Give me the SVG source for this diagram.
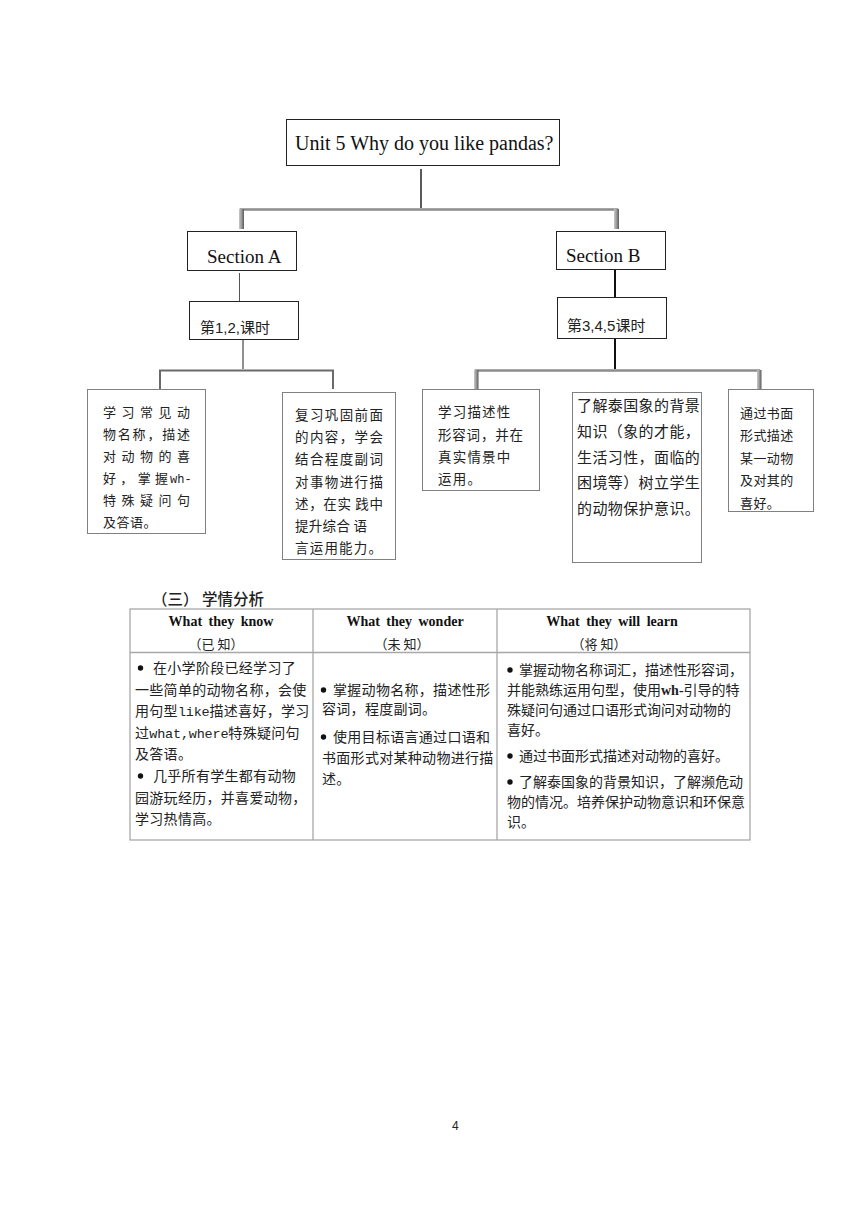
<svg xmlns="http://www.w3.org/2000/svg" width="860" height="1216" viewBox="0 0 860 1216">
<defs>
<linearGradient id="leg" x1="0" y1="0" x2="1" y2="0">
<stop offset="0" stop-color="#c8c8c8"/>
<stop offset="0.5" stop-color="#9a9a9a"/>
<stop offset="1" stop-color="#5a5a5a"/>
</linearGradient>
<style>
.box{fill:#fff;stroke:#222;stroke-width:1}
.cbox{fill:#fff;stroke:#808080;stroke-width:1}
.en{font-family:"Liberation Serif","Times New Roman",serif;fill:#111}
.cn{font-family:"Noto Sans CJK SC","Noto Sans",sans-serif;fill:#222}
.ct{font-family:"Noto Sans CJK SC","Noto Sans",sans-serif;fill:#222;font-size:14px;letter-spacing:0.3px}
.ct3{font-family:"Noto Sans CJK SC","Noto Sans",sans-serif;fill:#222;font-size:14px;letter-spacing:0px}
.mono{font-family:"Liberation Mono",monospace;font-size:13.5px;letter-spacing:-0.2px}
.hd{font-family:"Liberation Serif","Times New Roman",serif;font-weight:bold;font-size:14px;word-spacing:3px;fill:#111}
.tl{stroke:#a8a8a8;stroke-width:1.3;fill:none}
</style>
</defs>
<rect width="860" height="1216" fill="#fff"/>

<g id="connectors">
<line x1="421" y1="169" x2="421" y2="208" stroke="#222" stroke-width="1.5"/>
<path d="M241,228 V209.5 H617 V228" fill="none" stroke="#8c8c8c" stroke-width="2.5"/>
<rect x="239" y="209" width="5" height="20" fill="url(#leg)"/>
<rect x="614" y="209" width="5" height="20" fill="url(#leg)"/>
<line x1="239.5" y1="273" x2="239.5" y2="301" stroke="#555" stroke-width="1"/>
<line x1="615" y1="269" x2="615" y2="297" stroke="#111" stroke-width="2"/>
<line x1="243" y1="340" x2="243" y2="369" stroke="#222" stroke-width="1"/>
<path d="M160,389 V370.5 H333 V389" fill="none" stroke="#6a6a6a" stroke-width="2"/>
<line x1="615" y1="339" x2="615" y2="369" stroke="#111" stroke-width="2"/>
<path d="M476,389 V370.5 H759 V389" fill="none" stroke="#8c8c8c" stroke-width="2.5"/>
<rect x="474" y="370" width="4.5" height="19" fill="url(#leg)"/>
<rect x="757" y="370" width="4.5" height="19" fill="url(#leg)"/>
</g>

<g id="title">
<rect class="box" x="286.5" y="119.5" width="273" height="46"/>
<text class="en" x="295" y="150" font-size="20">Unit 5 Why do you like pandas?</text>
</g>

<g id="sectionA">
<rect class="box" x="187.5" y="231.5" width="109" height="39"/>
<text class="en" x="207" y="263" font-size="19">Section A</text>
</g>

<g id="sectionB">
<rect class="box" x="556.5" y="231.5" width="109" height="38"/>
<text class="en" x="566" y="262" font-size="19">Section B</text>
</g>

<g id="lessonA">
<rect class="box" x="189.5" y="301.5" width="109" height="38"/>
<text class="cn" x="200" y="333" font-size="15">第<tspan font-family="Liberation Sans,Arial,sans-serif">1,2,</tspan>课时</text>
</g>

<g id="lessonB">
<rect class="box" x="557.5" y="297.5" width="109" height="41"/>
<text class="cn" x="567" y="331" font-size="15">第<tspan font-family="Liberation Sans,Arial,sans-serif">3,4,5</tspan>课时</text>
</g>

<g id="goal1" class="cn" font-size="13">
<rect class="cbox" x="87.5" y="389.5" width="118" height="144"/>
<text x="103" y="417" textLength="87" lengthAdjust="spacing">学习常见动</text>
<text x="103" y="439" textLength="87" lengthAdjust="spacing">物名称，描述</text>
<text x="103" y="461" textLength="87" lengthAdjust="spacing">对动物的喜</text>
<text x="103" y="483"><tspan textLength="65" lengthAdjust="spacing">好，掌握</tspan><tspan x="170" font-family="Liberation Mono,monospace" font-size="12">wh-</tspan></text>
<text x="103" y="505" textLength="87" lengthAdjust="spacing">特殊疑问句</text>
<text x="103" y="527" letter-spacing="0.5">及答语。</text>
</g>

<g id="goal2" class="cn" font-size="13.5">
<rect class="cbox" x="282.5" y="392.5" width="113" height="167"/>
<text x="295" y="420" textLength="88" lengthAdjust="spacing">复习巩固前面</text>
<text x="295" y="442" textLength="88" lengthAdjust="spacing">的内容，学会</text>
<text x="295" y="464" textLength="88" lengthAdjust="spacing">结合程度副词</text>
<text x="295" y="487" textLength="88" lengthAdjust="spacing">对事物进行描</text>
<text x="295" y="509" textLength="88" lengthAdjust="spacing">述，在实 践中</text>
<text x="295" y="531" textLength="72" lengthAdjust="spacing">提升综合 语</text>
<text x="295" y="553" letter-spacing="1.2">言运用能力。</text>
</g>

<g id="goal3" class="cn" font-size="13.5">
<rect class="cbox" x="422.5" y="389.5" width="117" height="101"/>
<text x="438" y="417" letter-spacing="1.2">学习描述性</text>
<text x="438" y="440" letter-spacing="0.8">形容词，并在</text>
<text x="438" y="462" letter-spacing="1.2">真实情景中</text>
<text x="438" y="484" letter-spacing="1.2">运用。</text>
</g>

<g id="goal4" class="cn" font-size="15">
<rect class="cbox" x="572.5" y="392.5" width="129" height="170"/>
<text x="577" y="411" letter-spacing="0.4">了解泰国象的背景</text>
<text x="577" y="437" letter-spacing="0.4">知识（象的才能，</text>
<text x="577" y="463" letter-spacing="0.4">生活习性，面临的</text>
<text x="577" y="488" letter-spacing="0.4">困境等）树立学生</text>
<text x="577" y="514" letter-spacing="0.4">的动物保护意识。</text>
</g>

<g id="goal5" class="cn" font-size="13">
<rect class="cbox" x="728.5" y="389.5" width="85" height="122"/>
<text x="740" y="418" letter-spacing="0.4">通过书面</text>
<text x="740" y="440" letter-spacing="0.4">形式描述</text>
<text x="740" y="463" letter-spacing="0.4">某一动物</text>
<text x="740" y="485" letter-spacing="0.4">及对其的</text>
<text x="740" y="508" letter-spacing="0.4">喜好。</text>
</g>

<g id="analysis-heading">
<text class="cn" x="152" y="605" font-size="15.5" font-weight="500" fill="#111">（三） 学情分析</text>
</g>

<g id="analysis-table">
<rect class="tl" x="130" y="609" width="620" height="231"/>
<line class="tl" x1="130" y1="652.5" x2="750" y2="652.5"/>
<line class="tl" x1="313" y1="609" x2="313" y2="840"/>
<line class="tl" x1="497" y1="609" x2="497" y2="840"/>

<text class="hd" x="221" y="626" text-anchor="middle">What they know</text>
<text class="cn" x="216" y="649" font-size="13" text-anchor="middle">（已 知）</text>
<text class="hd" x="405" y="626" text-anchor="middle">What they wonder</text>
<text class="cn" x="402" y="649" font-size="13" text-anchor="middle">（未 知）</text>
<text class="hd" x="612" y="626" text-anchor="middle">What they will learn</text>
<text class="cn" x="599" y="649" font-size="13" text-anchor="middle">（将 知）</text>

<g fill="#111">
<circle cx="140.5" cy="668" r="2.7"/>
<circle cx="140.5" cy="776" r="2.7"/>
<circle cx="323.5" cy="690" r="2.7"/>
<circle cx="323.5" cy="737" r="2.7"/>
<circle cx="510" cy="670" r="2.7"/>
<circle cx="510" cy="756" r="2.7"/>
<circle cx="510" cy="782" r="2.7"/>
</g>

<text class="ct" x="153" y="673">在小学阶段已经学习了</text>
<text class="ct" x="135" y="694.5">一些简单的动物名称，会使</text>
<text class="ct" x="135" y="716">用句型<tspan class="mono">like</tspan>描述喜好，学习</text>
<text class="ct" x="135" y="737.5">过<tspan class="mono">what,where</tspan>特殊疑问句</text>
<text class="ct" x="135" y="759">及答语。</text>
<text class="ct" x="153" y="781">几乎所有学生都有动物</text>
<text class="ct" x="135" y="802.5">园游玩经历，并喜爱动物，</text>
<text class="ct" x="135" y="824">学习热情高。</text>

<text class="ct" x="333" y="695">掌握动物名称，描述性形</text>
<text class="ct" x="322" y="714">容词，程度副词。</text>
<text class="ct" x="333" y="742">使用目标语言通过口语和</text>
<text class="ct" x="322" y="763">书面形式对某种动物进行描</text>
<text class="ct" x="322" y="784">述。</text>

<text class="ct3" x="519" y="675">掌握动物名称词汇，描述性形容词，</text>
<text class="ct3" x="507" y="695">并能熟练运用句型，使用<tspan font-family="Liberation Serif,serif" font-weight="bold">wh-</tspan>引导的特</text>
<text class="ct3" x="507" y="715">殊疑问句通过口语形式询问对动物的</text>
<text class="ct3" x="507" y="735">喜好。</text>
<text class="ct3" x="519" y="761">通过书面形式描述对动物的喜好。</text>
<text class="ct3" x="519" y="787">了解泰国象的背景知识，了解濒危动</text>
<text class="ct3" x="507" y="807">物的情况。培养保护动物意识和环保意</text>
<text class="ct3" x="507" y="827">识。</text>
</g>

<g id="page-number">
<text x="452" y="1130" font-family="Liberation Sans,Arial,sans-serif" font-size="12" fill="#222">4</text>
</g>
</svg>
